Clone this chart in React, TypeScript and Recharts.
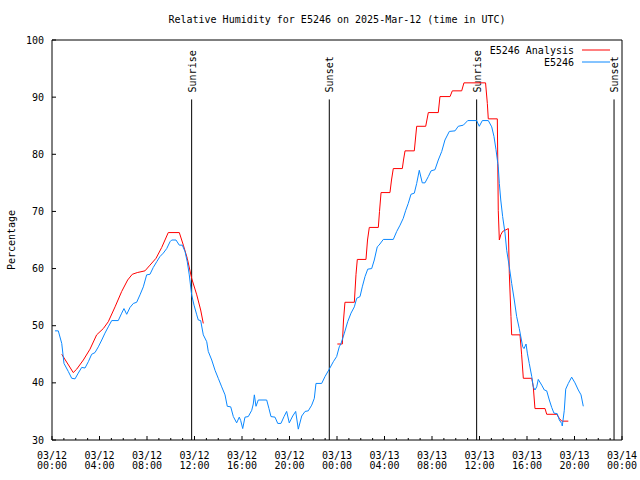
import React from 'react';
import { LineChart, Line, XAxis, YAxis, ReferenceLine } from 'recharts';

const FONT = '"DejaVu Sans Mono", "Liberation Mono", monospace';
const RED = '#ff0000';
const BLUE = '#0a88ff';

// hours since 03/12 00:00 UTC, relative humidity (%)
const analysisPoints: [number, number | null][] = [
    [0.82, 45.0], [1.79, 41.8], [2.08, 42.4], [2.64, 44.0], [3.2, 45.9], [3.76, 48.4],
    [4.32, 49.5], [4.74, 50.7], [5.31, 53.3], [5.87, 56.0], [6.37, 58.0], [6.76, 59.0],
    [7.18, 59.3], [7.83, 59.6], [8.25, 60.6], [8.76, 61.8], [9.24, 63.7], [9.79, 66.3],
    [10.72, 66.3], [11.06, 64.1], [11.39, 61.8], [11.76, 58.3], [12.19, 55.4], [12.52, 52.75],
    [12.74, 50.4],
    [18, null],
    [24.03, 46.8], [24.45, 46.8], [24.55, 51.0], [24.67, 54.1], [25.46, 54.1], [25.6, 59.0],
    [25.71, 61.6], [26.44, 61.6], [26.57, 65.0], [26.72, 67.2], [27.48, 67.2], [27.58, 70.0],
    [27.71, 73.3], [28.46, 73.3], [28.59, 75.5], [28.74, 77.5], [29.5, 77.5], [29.6, 79.0],
    [29.73, 80.6], [30.51, 80.6], [30.71, 84.9], [31.47, 84.9], [31.69, 87.3], [32.53, 87.3],
    [32.67, 90.1], [33.52, 90.1], [33.71, 91.1], [34.5, 91.1], [34.69, 92.5], [36.51, 92.5],
    [36.66, 88.9], [36.74, 86.2], [37.5, 86.2], [37.54, 78.4], [37.58, 70.2], [37.67, 65.0],
    [37.79, 65.9], [37.95, 66.5], [38.43, 67.0], [38.51, 59.2], [38.65, 51.6], [38.71, 48.4],
    [39.41, 48.4], [39.55, 44.9], [39.69, 40.8], [40.4, 40.8], [40.53, 39.3], [40.67, 35.5],
    [41.52, 35.5], [41.66, 34.5], [42.5, 34.5], [42.72, 33.8], [42.92, 33.3], [43.48, 33.3],
];

const stationPoints: [number, number][] = [
    [0.25, 49.1], [0.53, 49.1], [0.82, 46.9], [1.01, 43.4], [1.37, 42.0], [1.66, 40.8],
    [1.94, 40.7], [2.21, 41.7], [2.5, 42.7], [2.78, 42.6], [3.06, 43.7], [3.34, 45.0],
    [3.62, 45.3], [3.9, 46.3], [4.19, 47.5], [4.46, 48.7], [4.74, 49.8], [5.03, 50.9],
    [5.58, 50.9], [5.87, 52.2], [6.06, 53.0], [6.29, 52.0], [6.57, 53.2], [6.85, 53.9],
    [7.13, 54.1], [7.41, 55.4], [7.69, 56.8], [7.97, 58.9], [8.25, 59.0], [8.53, 60.2],
    [8.82, 61.2], [9.09, 62.1], [9.37, 62.7], [9.66, 63.5], [9.94, 64.7], [10.08, 65.0],
    [10.44, 65.0], [10.72, 64.1], [10.97, 64.1], [11.2, 63.0], [11.39, 61.2], [11.56, 58.9],
    [11.76, 55.4], [11.96, 53.6], [12.19, 51.9], [12.32, 51.0], [12.52, 50.9], [12.74, 48.4],
    [13.03, 47.2], [13.16, 45.5], [13.45, 44.0], [13.73, 42.2], [14.0, 40.8], [14.29, 39.3],
    [14.57, 37.9], [14.76, 35.9], [15.05, 35.8], [15.27, 34.1], [15.55, 33.0], [15.77, 34.0],
    [15.89, 33.4], [16.06, 32.0], [16.25, 34.0], [16.53, 34.1], [16.82, 35.2], [16.95, 36.3],
    [17.04, 37.9], [17.18, 35.9], [17.37, 37.0], [18.08, 37.0], [18.27, 35.5], [18.44, 34.1],
    [18.78, 34.0], [19.01, 32.9], [19.28, 32.9], [19.54, 34.1], [19.76, 35.0], [19.98, 33.0],
    [20.27, 34.2], [20.52, 35.0], [20.74, 31.9], [21.03, 34.2], [21.31, 35.0], [21.58, 35.1],
    [21.87, 36.1], [22.09, 37.3], [22.23, 39.9], [22.71, 39.9], [22.99, 41.1], [23.35, 42.4],
    [23.69, 43.7], [23.97, 44.6], [24.19, 46.3], [24.34, 46.9], [24.62, 48.7], [24.9, 50.7],
    [25.18, 52.2], [25.46, 53.3], [25.66, 54.8], [25.94, 55.1], [26.13, 56.8], [26.36, 58.6],
    [26.59, 59.9], [26.92, 60.0], [27.14, 61.5], [27.39, 63.8], [27.54, 64.1], [27.9, 65.1],
    [28.74, 65.1], [29.03, 66.5], [29.31, 67.6], [29.58, 68.8], [29.79, 70.2], [30.0, 71.4],
    [30.23, 73.0], [30.51, 73.2], [30.71, 74.9], [30.93, 77.2], [31.18, 75.0], [31.41, 75.0],
    [31.69, 76.1], [31.92, 77.1], [32.25, 77.3], [32.53, 79.0], [32.82, 80.5], [33.09, 82.5],
    [33.46, 84.0], [33.94, 84.1], [34.21, 84.9], [34.64, 85.1], [35.01, 85.9], [35.76, 85.9],
    [35.98, 84.9], [36.24, 85.9], [36.74, 85.9], [37.03, 84.8], [37.22, 83.1], [37.39, 80.8],
    [37.58, 77.8], [37.67, 74.9], [37.79, 72.0], [37.95, 69.1], [38.15, 66.2], [38.29, 63.2],
    [38.51, 60.3], [38.71, 57.4], [38.93, 54.5], [39.13, 51.6], [39.35, 49.5], [39.64, 46.3],
    [39.75, 46.0], [39.92, 46.8], [40.03, 45.2], [40.19, 43.4], [40.4, 41.1], [40.53, 39.3],
    [40.67, 38.75], [40.82, 39.3], [40.95, 40.6], [41.24, 39.6], [41.46, 38.75], [41.66, 38.6],
    [41.88, 37.0], [42.08, 35.7], [42.27, 34.7], [42.55, 34.6], [42.72, 33.5], [42.92, 32.9],
    [42.97, 32.45], [43.14, 35.2], [43.26, 38.9], [43.48, 39.9], [43.76, 41.0], [44.04, 40.0],
    [44.32, 38.75], [44.55, 37.9], [44.74, 35.9],
];

const sunEvents = [
    { label: 'Sunrise', hour: 11.76 },
    { label: 'Sunset', hour: 23.35 },
    { label: 'Sunrise', hour: 35.76 },
    { label: 'Sunset', hour: 47.33 },
];

const xTickLabels = [
    ['03/12', '00:00'], ['03/12', '04:00'], ['03/12', '08:00'], ['03/12', '12:00'],
    ['03/12', '16:00'], ['03/12', '20:00'], ['03/13', '00:00'], ['03/13', '04:00'],
    ['03/13', '08:00'], ['03/13', '12:00'], ['03/13', '16:00'], ['03/13', '20:00'],
    ['03/14', '00:00'],
];
const hourTicks = Array.from({ length: 49 }, (_, i) => i);
const yTicks = [30, 40, 50, 60, 70, 80, 90, 100];

const analysisData = analysisPoints.map(([t, v]) => ({ t, v }));
const stationData = stationPoints.map(([t, v]) => ({ t, v }));

const textStyle = { fontFamily: FONT, fontSize: 10, fill: '#000' };

function BottomTick({ x, y, payload }: any) {
    const h = payload.value;
    const major = h % 4 === 0;
    const label = major ? xTickLabels[h / 4] : null;
    return (
        <g>
            <line x1={x} y1={y} x2={x} y2={y - (major ? 4 : 2)} stroke="#000" />
            {label && (
                <>
                    <text x={x} y={y + 19} textAnchor="middle" {...textStyle}>{label[0]}</text>
                    <text x={x} y={y + 29} textAnchor="middle" {...textStyle}>{label[1]}</text>
                </>
            )}
        </g>
    );
}

function TopTick({ x, y, payload }: any) {
    const major = payload.value % 4 === 0;
    return <line x1={x} y1={y} x2={x} y2={y + (major ? 4 : 2)} stroke="#000" />;
}

function LeftTick({ x, y, payload }: any) {
    return (
        <g>
            <line x1={x} y1={y} x2={x + 4} y2={y} stroke="#000" />
            <text x={x - 8} y={y + 3.5} textAnchor="end" {...textStyle}>{payload.value}</text>
        </g>
    );
}

function RightTick({ x, y }: any) {
    return <line x1={x} y1={y} x2={x - 4} y2={y} stroke="#000" />;
}

const renderTitle = () => (
    <text x={337} y={23} textAnchor="middle" {...textStyle}>
        Relative Humidity for E5246 on 2025-Mar-12 (time in UTC)
    </text>
);

const renderYLabel = () => (
    <text x={15} y={240} textAnchor="middle" transform="rotate(-90, 15, 240)" {...textStyle}>
        Percentage
    </text>
);

const renderLegend = () => (
    <g>
        <text x={574} y={53.5} textAnchor="end" {...textStyle}>E5246 Analysis</text>
        <line x1={582} y1={50} x2={610} y2={50} stroke={RED} />
        <text x={574} y={65.5} textAnchor="end" {...textStyle}>E5246</text>
        <line x1={582} y1={62} x2={610} y2={62} stroke={BLUE} />
    </g>
);

function sunLabel(text: string) {
    return ({ viewBox }: any) => {
        const x = viewBox.x + 4;
        const y = viewBox.y - 7;
        return (
            <text x={x} y={y} transform={`rotate(-90, ${x}, ${y})`} textAnchor="start" {...textStyle}>
                {text}
            </text>
        );
    };
}

export default function App() {
    return (
        <div style={{ position: 'absolute', left: 0, top: 0, background: '#fff' }}>
            <LineChart width={640} height={480} margin={{ top: 39, right: 17, bottom: 39, left: 51 }}>
                <XAxis
                    dataKey="t"
                    type="number"
                    domain={[0, 48]}
                    ticks={hourTicks}
                    interval={0}
                    height={1}
                    tickSize={0}
                    tickMargin={0}
                    stroke="#000"
                    tick={(p: any) => <BottomTick {...p} />}
                />
                <XAxis
                    xAxisId="top"
                    orientation="top"
                    type="number"
                    domain={[0, 48]}
                    ticks={hourTicks}
                    interval={0}
                    height={1}
                    tickSize={0}
                    tickMargin={0}
                    stroke="#000"
                    tick={(p: any) => <TopTick {...p} />}
                    label={renderTitle}
                />
                <YAxis
                    type="number"
                    domain={[30, 100]}
                    ticks={yTicks}
                    interval={0}
                    width={1}
                    tickSize={0}
                    tickMargin={0}
                    stroke="#000"
                    tick={(p: any) => <LeftTick {...p} />}
                    label={renderYLabel}
                />
                <YAxis
                    yAxisId="right"
                    orientation="right"
                    type="number"
                    domain={[30, 100]}
                    ticks={yTicks}
                    interval={0}
                    width={1}
                    tickSize={0}
                    tickMargin={0}
                    stroke="#000"
                    tick={(p: any) => <RightTick {...p} />}
                    label={renderLegend}
                />
                {sunEvents.map((e, i) => (
                    <ReferenceLine
                        key={i}
                        segment={[{ x: e.hour, y: 30 }, { x: e.hour, y: 89.6 }]}
                        stroke="#000"
                        strokeWidth={1}
                        label={sunLabel(e.label)}
                    />
                ))}
                <Line
                    data={analysisData}
                    dataKey="v"
                    type="linear"
                    stroke={RED}
                    strokeWidth={1}
                    dot={false}
                    activeDot={false}
                    isAnimationActive={false}
                />
                <Line
                    data={stationData}
                    dataKey="v"
                    type="linear"
                    stroke={BLUE}
                    strokeWidth={1}
                    dot={false}
                    activeDot={false}
                    isAnimationActive={false}
                />
            </LineChart>
        </div>
    );
}
